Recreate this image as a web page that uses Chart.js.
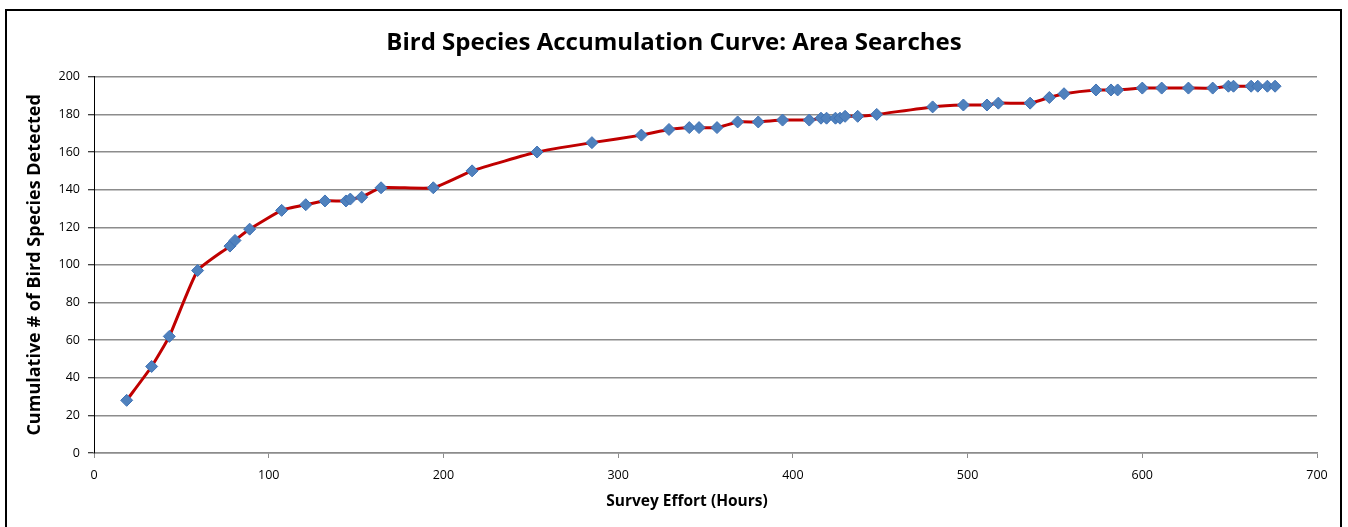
<!DOCTYPE html>
<html>
<head>
<meta charset="utf-8">
<script src="https://cdn.jsdelivr.net/npm/chart.js@4/dist/chart.umd.min.js"></script>
<style>
  html, body { margin: 0; padding: 0; background: #fff; overflow: hidden; }
  #wrap { position: relative; width: 1348px; height: 527px; }
  #frame { position: absolute; left: 5px; top: 9px; width: 1333px; height: 600px;
           border: 2px solid #000; pointer-events: none; }
  canvas { display: block; }
</style>
</head>
<body>
<div id="wrap">
  <canvas id="chart" width="1348" height="527"></canvas>
  <div id="frame"></div>
</div>
<script>
// Cumulative survey effort (hours) and species detected after each area search
const surveyHours = [
  18.7, 33, 43.1, 59.3, 77.8, 80.7, 89.1, 107.4, 121.2, 132.2,
  144.2, 146.7, 153.2, 164.3, 194.2, 216.4, 253.6, 285, 313.3, 329.1,
  340.7, 346.3, 356.6, 368.4, 380.2, 394.1, 409.4, 416.1, 419.3, 424.4,
  427, 429.9, 437.1, 448, 480, 497.6, 511.1, 517.6, 535.8, 546.8,
  555.2, 573.5, 582.1, 585.9, 600, 611.1, 626.4, 640.3, 649.3, 652.2,
  662.3, 666.1, 671.6, 676
];
const speciesDetected = [
  28, 46, 62, 97, 110, 113, 119, 129, 132, 134,
  134, 135, 136, 141, 141, 150, 160, 165, 169, 172,
  173, 173, 173, 176, 176, 177, 177, 178, 178, 178,
  178, 179, 179, 180, 184, 185, 185, 186, 186, 189,
  191, 193, 193, 193, 194, 194, 194, 194, 195, 195,
  195, 195, 195, 195
];
const xTickValues = [0, 100, 200, 300, 400, 500, 600, 700];
const yTickValues = [0, 20, 40, 60, 80, 100, 120, 140, 160, 180, 200];

const chartTitle = 'Bird Species Accumulation Curve: Area Searches';
const xAxisTitle = 'Survey Effort (Hours)';
const yAxisTitle = 'Cumulative # of Bird Species Detected';

const points = surveyHours.map((h, i) => ({ x: h, y: speciesDetected[i] }));
const FONT = '"Open Sans", Lato, sans-serif';

// Horizontal axis caption, placed slightly left of the plot centre
const xCaption = {
  id: 'xCaption',
  afterDraw(chart) {
    const ctx = chart.ctx;
    ctx.save();
    ctx.font = 'bold 15.5px ' + FONT;
    ctx.fillStyle = '#000';
    ctx.textAlign = 'center';
    ctx.textBaseline = 'middle';
    ctx.fillText(xAxisTitle, 687, 502);
    ctx.restore();
  }
};

new Chart(document.getElementById('chart'), {
  type: 'line',
  data: {
    datasets: [{
      data: points,
      borderColor: '#c00000',
      borderWidth: 3,
      tension: 0.15,
      pointStyle: 'rectRot',
      pointRadius: 6,
      pointBackgroundColor: '#4f81bd',
      pointBorderColor: '#3f72b5',
      pointBorderWidth: 1
    }]
  },
  plugins: [xCaption],
  options: {
    responsive: false,
    animation: false,
    layout: { padding: 0 },
    plugins: {
      legend: { display: false },
      tooltip: { enabled: false },
      title: {
        display: true,
        text: chartTitle,
        color: '#000',
        font: { family: FONT, size: 24, weight: 'bold' },
        padding: { top: 29, bottom: 19 }
      }
    },
    scales: {
      x: {
        type: 'linear',
        min: 0, max: 700,
        afterFit: s => { s.height = 74; },
        afterBuildTicks: s => { s.ticks = xTickValues.map(v => ({ value: v })); },
        ticks: { color: '#000', font: { family: FONT, size: 12.5 }, padding: 10, maxRotation: 0 },
        grid: { drawOnChartArea: false, drawTicks: true, tickLength: 5, tickColor: '#8c8c8c', tickWidth: 1 },
        border: { color: '#8c8c8c', width: 1.5 }
      },
      y: {
        min: 0, max: 200,
        afterFit: s => { s.width = 94; },
        afterBuildTicks: s => { s.ticks = yTickValues.map(v => ({ value: v })); },
        ticks: { color: '#000', font: { family: FONT, size: 12.5 }, padding: 8 },
        grid: { color: '#8c8c8c', lineWidth: 1.5, drawTicks: true, tickLength: 6, tickColor: '#000', tickWidth: 1 },
        border: { color: '#000', width: 1 },
        title: {
          display: true, text: yAxisTitle, color: '#000',
          font: { family: FONT, size: 18, weight: 'bold' },
          padding: { top: 24, bottom: 0 }
        }
      },
      // empty right-hand margin strip beside the plot
      rightMargin: {
        position: 'right',
        min: 0, max: 1,
        afterFit: s => { s.width = 31; },
        ticks: { display: false },
        grid: { display: false, drawTicks: false },
        border: { display: false }
      }
    }
  }
});
</script>
</body>
</html>
